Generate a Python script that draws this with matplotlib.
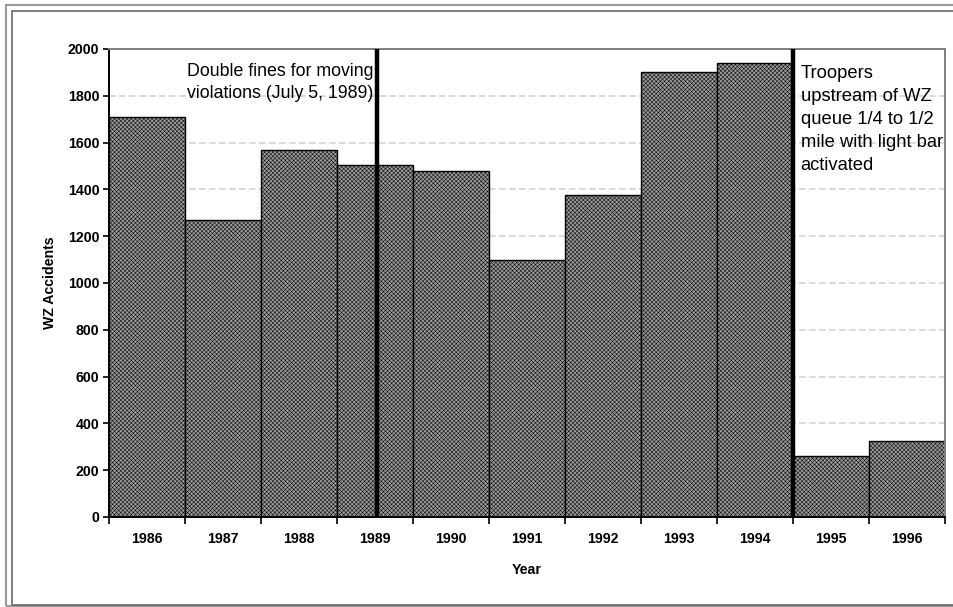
import matplotlib.pyplot as plt
import numpy as np
from matplotlib.patches import Rectangle

plt.rcParams["font.family"] = ["Liberation Sans", "DejaVu Sans"]
plt.rcParams["hatch.linewidth"] = 0.35
plt.rcParams["hatch.color"] = "#707070"

years = ["1986", "1987", "1988", "1989", "1990", "1991",
         "1992", "1993", "1994", "1995", "1996"]
accidents = [1710, 1270, 1567, 1505, 1480, 1100, 1375, 1900, 1940, 260, 325]

# intervention dates, as positions on the year axis
double_fines_x = 3.02      # July 5, 1989
troopers_x = 8.5           # start of 1995

fig = plt.figure(figsize=(9.54, 6.07), dpi=100)
ax = fig.add_axes([0.1143, 0.1483, 0.8763, 0.771])

x = np.arange(len(years))
ax.bar(x, accidents, width=1.0, color="#999999", edgecolor="black",
       linewidth=1.0, hatch="xxxxxxxx", zorder=2)

ax.set_xlim(-0.5, len(years) - 0.5)
ax.set_ylim(0, 2000)
ax.set_yticks(np.arange(0, 2001, 200))
ax.yaxis.grid(True, color="#d4d4d4", linestyle=(0, (4, 2)), linewidth=1.2, zorder=0)
ax.set_axisbelow(True)

# year labels centred on bars, ticks on bar boundaries
ax.set_xticks(x)
ax.set_xticklabels(years)
ax.tick_params(axis="x", which="major", length=0, pad=11)
ax.set_xticks(np.arange(-0.5, len(years)), minor=True)
ax.tick_params(axis="x", which="minor", length=5, width=1.2, direction="out")
ax.tick_params(axis="y", length=4, width=1.2, direction="out", pad=3)
for lab in ax.get_xticklabels() + ax.get_yticklabels():
    lab.set_fontsize(10.2)
    lab.set_fontweight("bold")

ax.set_xlabel("Year", fontsize=10.2, fontweight="bold", labelpad=12)
ax.set_ylabel("WZ Accidents", fontsize=10.2, fontweight="bold", labelpad=8)

for side in ("left", "bottom"):
    ax.spines[side].set_color("black")
    ax.spines[side].set_linewidth(1.4)
for side in ("top", "right"):
    ax.spines[side].set_color("#808080")
    ax.spines[side].set_linewidth(1.4)

ax.axvline(double_fines_x, color="black", linewidth=3.2, zorder=4)
ax.axvline(troopers_x, color="black", linewidth=3.2, zorder=4)

ax.text(double_fines_x - 2.5, 1942, "Double fines for moving\nviolations (July 5, 1989)",
        fontsize=12.8, va="top", ha="left", linespacing=1.45, zorder=5)
ax.text(troopers_x + 0.1, 1932,
        "Troopers\nupstream of WZ\nqueue 1/4 to 1/2\nmile with light bar\nactivated",
        fontsize=13.2, va="top", ha="left", linespacing=1.47, zorder=5)

# double frame around the chart area
fig.patches.append(Rectangle((6 / 954, 1 / 607), 1.1, 601 / 607, transform=fig.transFigure,
                             fill=False, edgecolor="#9a9a9a", linewidth=1.5))
fig.patches.append(Rectangle((12 / 954, 2 / 607), 1.1, 594 / 607, transform=fig.transFigure,
                             fill=False, edgecolor="#6a6a6a", linewidth=1.2))

fig.savefig("out.png", dpi=100)
